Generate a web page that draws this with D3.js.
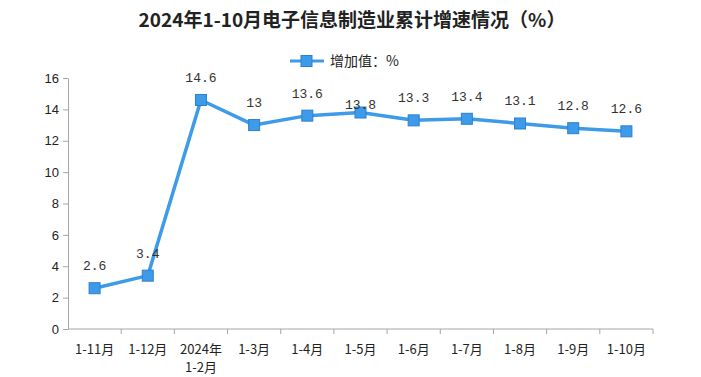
<!DOCTYPE html>
<html>
<head>
<meta charset="utf-8">
<script src="https://cdn.jsdelivr.net/npm/d3@7/dist/d3.min.js"></script>
<style>
  body { margin: 0; background: #fff; }
  svg { display: block; }
</style>
</head>
<body>
<div id="chart"></div>
<script>
// data
const categories = ["1-11月", "1-12月", "2024年\n1-2月", "1-3月", "1-4月", "1-5月", "1-6月", "1-7月", "1-8月", "1-9月", "1-10月"]
const values = [2.6, 3.4, 14.6, 13, 13.6, 13.8, 13.3, 13.4, 13.1, 12.8, 12.6]
const yTicks = [0, 2, 4, 6, 8, 10, 12, 14, 16]
const seriesName = "增加值：%"
const title = "2024年1-10月电子信息制造业累计增速情况（%）"

const width = 701, height = 377
const margin = {top: 78, right: 48, bottom: 48, left: 68}
const lineColor = "#3d9bea"
const axisColor = "#a6a6a6"
const cjk = "'Noto Sans CJK SC', 'Noto Sans', sans-serif"

const svg = d3.select("#chart")
  .append("svg")
  .attr("width", width)
  .attr("height", height)

// title
svg.append("text")
  .attr("x", 352)
  .attr("y", 27)
  .attr("text-anchor", "middle")
  .attr("font-family", cjk)
  .attr("font-weight", "bold")
  .attr("font-size", 19)
  .attr("fill", "#222")
  .text(title)

// legend
let legend = svg.append("g").attr("transform", "translate(290,61)")
legend.append("line")
  .attr("x1", 0).attr("x2", 34)
  .attr("stroke", lineColor).attr("stroke-width", 3)
legend.append("rect")
  .attr("x", 11).attr("y", -5.5).attr("width", 11).attr("height", 11)
  .attr("fill", lineColor).attr("stroke", "#2f7fcc")
legend.append("text")
  .attr("x", 40).attr("y", 5)
  .attr("font-family", cjk)
  .attr("font-size", 14)
  .attr("fill", "#222")
  .text(seriesName)

let xScale = d3.scaleBand()
  .domain(categories)
  .range([margin.left, width - margin.right])

let yScale = d3.scaleLinear()
  .domain([0, 16])
  .range([height - margin.bottom, margin.top])

// y axis
let yAxis = svg.append("g")
  .attr("transform", "translate(" + margin.left + ",0)")
  .call(d3.axisLeft(yScale).tickValues(yTicks).tickSize(5).tickSizeOuter(0))
yAxis.select(".domain").attr("stroke", axisColor)
yAxis.selectAll(".tick line").attr("stroke", axisColor)
yAxis.selectAll(".tick text")
  .attr("font-family", "'Liberation Sans', sans-serif")
  .attr("font-size", 13)
  .attr("fill", "#222")
  .attr("x", -9)

// x axis, ticks sit on the band edges
let edges = categories.map(c => xScale(c)).concat([xScale.range()[1]])
let xAxis = svg.append("g")
  .attr("transform", "translate(0," + yScale(0) + ")")
xAxis.append("line")
  .attr("x1", margin.left).attr("x2", width - margin.right)
  .attr("stroke", axisColor)
xAxis.selectAll(".edge")
  .data(edges.slice(1))
  .join("line")
  .attr("class", "edge")
  .attr("x1", d => d).attr("x2", d => d)
  .attr("y1", 0).attr("y2", 5)
  .attr("stroke", axisColor)
xAxis.selectAll(".cat")
  .data(categories)
  .join("text")
  .attr("class", "cat")
  .attr("text-anchor", "middle")
  .attr("font-family", cjk)
  .attr("font-size", 13)
  .attr("fill", "#222")
  .each(function (d) {
    let lines = d.split("\n")
    d3.select(this).selectAll("tspan")
      .data(lines)
      .join("tspan")
      .attr("x", xScale(d) + xScale.bandwidth() / 2)
      .attr("y", (l, i) => 25 + i * 18)
      .text(l => l)
  })

// line and markers
let cx = (d, i) => xScale(categories[i]) + xScale.bandwidth() / 2
let line = d3.line()
  .x(cx)
  .y(d => yScale(d))

svg.append("path")
  .datum(values)
  .attr("d", line)
  .attr("fill", "none")
  .attr("stroke", lineColor)
  .attr("stroke-width", 3.5)
  .attr("stroke-linejoin", "round")

svg.selectAll(".marker")
  .data(values)
  .join("rect")
  .attr("class", "marker")
  .attr("x", (d, i) => cx(d, i) - 5.5)
  .attr("y", d => yScale(d) - 5.5)
  .attr("width", 11)
  .attr("height", 11)
  .attr("fill", lineColor)
  .attr("stroke", "#2f7fcc")

// value labels, the 1-5月 one sits lower in the original
svg.selectAll(".label")
  .data(values)
  .join("text")
  .attr("class", "label")
  .attr("x", cx)
  .attr("y", (d, i) => yScale(d) - (i === 5 ? 4 : 18))
  .attr("text-anchor", "middle")
  .attr("font-family", "'Liberation Mono', monospace")
  .attr("font-size", 13)
  .attr("fill", "#333")
  .text(d => d)
</script>
</body>
</html>
